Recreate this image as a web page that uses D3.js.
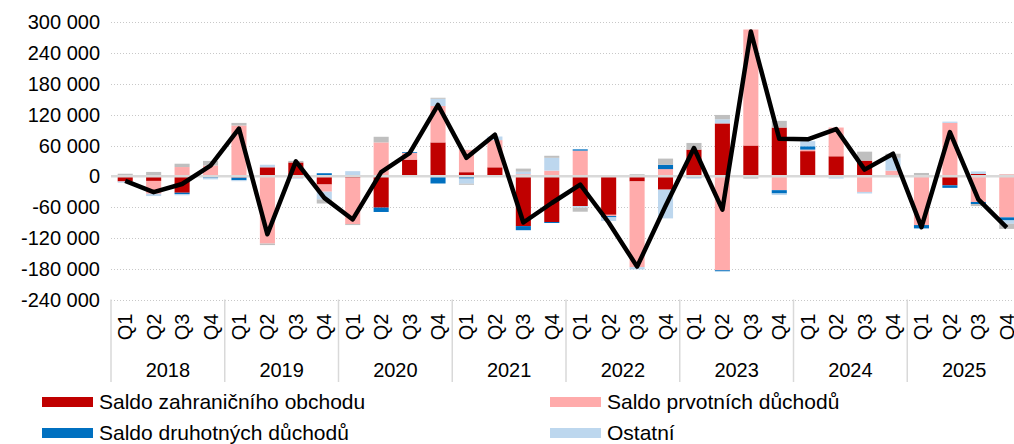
<!DOCTYPE html>
<html>
<head>
<meta charset="utf-8">
<script src="https://d3js.org/d3.v7.min.js"></script>
<style>
  body { margin: 0; background: #fff; }
  text { font-family: "Liberation Sans", Arial, sans-serif; fill: #000; }
</style>
</head>
<body>
<div id="chart"></div>
<script>
// quarters 2018Q1 .. 2025Q4
var years = ["2018", "2019", "2020", "2021", "2022", "2023", "2024", "2025"];
var quarters = ["Q1", "Q2", "Q3", "Q4"];

// stacked components
var obchod   = [-10000, -9000, -32000, 0, -2500, 17500, 27000, -16000, -3000, -61000, 32500, 66000, 8000, 17500, -97000, -89000, -58000, -75000, -10000, -26000, 52000, 103000, 60000, 95000, 49000, 39000, 30500, 0, 1500, -17500, 4500, 3000];
var prvotni  = [0, -25000, 18000, 21000, 99000, -131000, -3000, -14000, -90000, 66000, 13000, 71000, 43500, 53000, 4000, 11000, 50000, -2500, -167000, 14000, 0, -183000, 226000, -27000, 3000, 56000, -30500, 11000, -95000, 104000, -50000, -80000];
var druhotne = [0, 0, -2500, -3000, -5000, 0, 0, 6000, 0, -8500, 1500, -14000, -4500, 0, -8000, -2000, 2500, -2500, 0, 8500, -2500, -2000, 0, -6500, 6500, 0, 0, 0, -6500, -5000, -4000, -6000];
var ostatni  = [-2500, -4500, -2500, -3000, -2000, 5000, -1500, -15000, 10000, 0, 0, 14000, -10000, 7000, 5000, 25000, -3000, -7000, -4500, -56000, -2000, 8000, 0, -3000, 10000, -4500, -3000, 25000, 0, 2500, 5000, -6500];
var sede     = [5000, 8500, 6500, 9000, 5000, -3000, 3000, -8000, -2000, 11000, 0, 2000, -2000, 0, 6000, 4000, -8000, 0, 4000, 12000, 13000, 8500, -4500, 13000, 0, 0, 17500, 8000, 5000, 0, -4000, -10000];
// line
var celkem   = [-9000, -31000, -15000, 21000, 93000, -113000, 29000, -42000, -84000, 8000, 45000, 139000, 36000, 81000, -90000, -52000, -16000, -90000, -176000, -58000, 55000, -65000, 282000, 73000, 72000, 92000, 13000, 44000, -99000, 86000, -45000, -100000];

var yTicks = [300000, 240000, 180000, 120000, 60000, 0, -60000, -120000, -180000, -240000];

var seriesNames = ["Saldo zahraničního obchodu", "Saldo prvotních důchodů", "Saldo druhotných důchodů", "Ostatní", "Jiné"];
var seriesColors = ["#c00000", "#ffabab", "#0070c0", "#bdd7ee", "#bfbfbf"];

var W = 1014, H = 444;
var x0 = 111, x1 = 1021, yTop = 22.3, yBot = 299.5;

var keys = [];
years.forEach(function(y) { quarters.forEach(function(q) { keys.push(y + q); }); });

var rows = keys.map(function(k, i) {
  return { key: k, s0: obchod[i], s1: prvotni[i], s2: druhotne[i], s3: ostatni[i], s4: sede[i] };
});

var svg = d3.select("#chart").append("svg")
  .attr("width", W).attr("height", H);

var x = d3.scaleBand().domain(keys).range([x0, x1])
  .paddingInner(0.47).paddingOuter(0.235);
var y = d3.scaleLinear().domain([-240000, 300000]).range([yBot, yTop]);

// gridlines
svg.append("g").selectAll("line")
  .data(yTicks.filter(function(d) { return d !== 0; }))
  .enter().append("line")
  .attr("x1", x0).attr("x2", W)
  .attr("y1", function(d) { return Math.round(y(d)) + 0.5; })
  .attr("y2", function(d) { return Math.round(y(d)) + 0.5; })
  .attr("stroke", "#c8c8c8").attr("stroke-width", 1)
  .attr("stroke-dasharray", "1,2");

// y labels
var fmt = function(d) { return d3.format(",")(d).replace(/,/g, " ").replace("−", "-"); };
svg.append("g").selectAll("text")
  .data(yTicks).enter().append("text")
  .attr("x", 100).attr("y", function(d) { return y(d); })
  .attr("dy", "0.35em").attr("text-anchor", "end")
  .style("font-size", "20px")
  .text(fmt);

// stacked bars
var stack = d3.stack().keys(["s0", "s1", "s2", "s3", "s4"])
  .offset(d3.stackOffsetDiverging);
var layers = stack(rows);

svg.append("g").selectAll("g")
  .data(layers).enter().append("g")
  .attr("fill", function(d, i) { return seriesColors[i]; })
  .selectAll("rect")
  .data(function(d) { return d; })
  .enter().append("rect")
  .attr("x", function(d) { return x(d.data.key); })
  .attr("width", x.bandwidth())
  .attr("y", function(d) { return y(Math.max(d[0], d[1])); })
  .attr("height", function(d) { return Math.abs(y(d[0]) - y(d[1])); });

// zero line
svg.append("line")
  .attr("x1", x0).attr("x2", W)
  .attr("y1", y(0)).attr("y2", y(0))
  .attr("stroke", "#d9d9d9").attr("stroke-width", 2.5);

// total line
var line = d3.line()
  .x(function(d, i) { return x(keys[i]) + x.bandwidth() / 2; })
  .y(function(d) { return y(d); });
svg.append("path")
  .datum(celkem)
  .attr("d", line)
  .attr("fill", "none")
  .attr("stroke", "#000")
  .attr("stroke-width", 4.5)
  .attr("stroke-linejoin", "round");

// category axis: separators
var yearW = x.step() * 4;
var seps = d3.range(years.length + 1).map(function(i) { return x0 + i * yearW; });
svg.append("g").selectAll("line")
  .data(seps).enter().append("line")
  .attr("x1", function(d) { return d; }).attr("x2", function(d) { return d; })
  .attr("y1", yBot).attr("y2", 382)
  .attr("stroke", "#d9d9d9").attr("stroke-width", 1.5);

// quarter labels
svg.append("g").selectAll("text")
  .data(keys).enter().append("text")
  .attr("transform", function(d) {
    return "translate(" + (x(d) + x.bandwidth() / 2) + ",327) rotate(-90)";
  })
  .attr("text-anchor", "middle").attr("dy", "0.35em")
  .style("font-size", "20px")
  .text(function(d) { return d.slice(4); });

// year labels
svg.append("g").selectAll("text")
  .data(years).enter().append("text")
  .attr("x", function(d, i) { return x0 + (i + 0.5) * yearW; })
  .attr("y", 377)
  .attr("text-anchor", "middle")
  .style("font-size", "20px")
  .text(function(d) { return d; });

// legend
var legend = [
  { name: seriesNames[0], color: seriesColors[0], lx: 42, ly: 402 },
  { name: seriesNames[1], color: seriesColors[1], lx: 550, ly: 402 },
  { name: seriesNames[2], color: seriesColors[2], lx: 42, ly: 433 },
  { name: seriesNames[3], color: seriesColors[3], lx: 550, ly: 433 }
];
var lg = svg.append("g").selectAll("g")
  .data(legend).enter().append("g")
  .attr("transform", function(d) { return "translate(" + d.lx + "," + d.ly + ")"; });
lg.append("rect")
  .attr("x", 0).attr("y", -5).attr("width", 51).attr("height", 10)
  .attr("fill", function(d) { return d.color; });
lg.append("text")
  .attr("x", 57).attr("y", 0).attr("dy", "0.35em")
  .style("font-size", "21px")
  .text(function(d) { return d.name; });
</script>
</body>
</html>
